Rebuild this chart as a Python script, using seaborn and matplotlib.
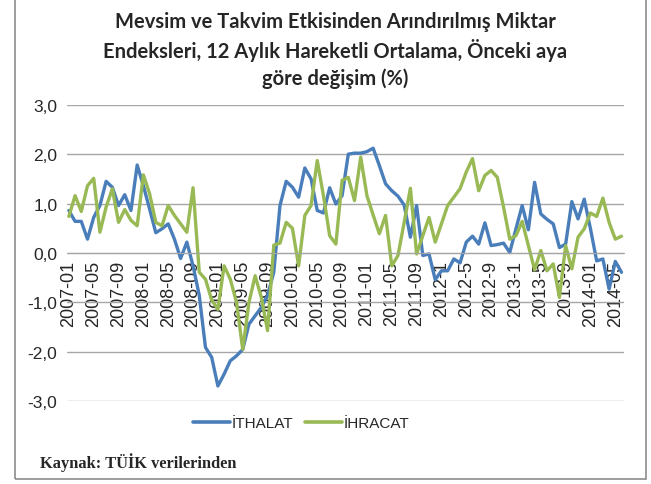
import matplotlib
matplotlib.use("Agg")
import matplotlib.pyplot as plt
import matplotlib.patches as mpatches
import pandas as pd
import seaborn as sns

# monthly values, 2007-01 .. 2014-06
ithalat = [0.86, 0.64, 0.64, 0.28, 0.72, 0.96, 1.45, 1.33, 0.96, 1.18, 0.86, 1.78,
           1.36, 0.89, 0.41, 0.49, 0.59, 0.28, -0.11, 0.22, -0.26, -0.86, -1.91, -2.11,
           -2.69, -2.45, -2.18, -2.08, -1.95, -1.44, -1.27, -1.10, -0.86, -0.39, 0.96, 1.45,
           1.33, 1.13, 1.72, 1.50, 0.86, 0.81, 1.32, 0.99, 1.16, 2.00, 2.02, 2.02,
           2.05, 2.12, 1.77, 1.40, 1.26, 1.15, 0.97, 0.32, 0.96, -0.05, -0.02, -0.54,
           -0.36, -0.36, -0.12, -0.20, 0.22, 0.34, 0.18, 0.61, 0.15, 0.17, 0.20, 0.01,
           0.49, 0.96, 0.47, 1.43, 0.79, 0.68, 0.59, 0.11, 0.18, 1.04, 0.69, 1.09,
           0.49, -0.16, -0.12, -0.73, -0.17, -0.39]
ihracat = [0.74, 1.16, 0.84, 1.36, 1.51, 0.42, 0.93, 1.30, 0.62, 0.88, 0.66, 0.55,
           1.58, 1.20, 0.62, 0.55, 0.96, 0.76, 0.59, 0.42, 1.32, -0.39, -0.53, -0.95,
           -1.14, -0.26, -0.53, -1.00, -1.95, -1.00, -0.46, -0.90, -1.57, 0.16, 0.20, 0.62,
           0.50, -0.26, 0.76, 0.96, 1.87, 1.16, 0.35, 0.18, 1.47, 1.53, 1.06, 1.94,
           1.16, 0.77, 0.39, 0.76, -0.26, -0.05, 0.62, 1.31, -0.02, 0.35, 0.72, 0.22,
           0.59, 0.96, 1.13, 1.30, 1.64, 1.91, 1.26, 1.57, 1.67, 1.53, 0.93, 0.28,
           0.35, 0.64, 0.15, -0.34, 0.05, -0.36, -0.22, -0.90, 0.15, -0.32, 0.32, 0.49,
           0.81, 0.74, 1.11, 0.62, 0.28, 0.34]
tick_labels = ['2007-01', '2007-05', '2007-09', '2008-01', '2008-05', '2008-09',
               '2009-01', '2009-05', '2009-09', '2010-01', '2010-05', '2010-09',
               '2011-01', '2011-05', '2011-09', '2012-1', '2012-5', '2012-9',
               '2013-1', '2013-5', '2013-9', '2014-01', '2014-05']
series_names = ['İTHALAT', 'İHRACAT']
colors = ['#4A7EBB', '#98B954']

months = list(range(len(ithalat)))
df = pd.concat([
    pd.DataFrame({'ay': months, 'deger': ithalat, 'seri': series_names[0]}),
    pd.DataFrame({'ay': months, 'deger': ihracat, 'seri': series_names[1]}),
])

sns.set_style('white')
plt.rcParams['font.family'] = ['Liberation Sans', 'DejaVu Sans']

fig = plt.figure(figsize=(6.51, 4.85), dpi=100)
ax = fig.add_axes([67 / 651, 1 - 402.3 / 485, (624 - 67) / 651, (402.3 - 105.7) / 485])

sns.lineplot(data=df, x='ay', y='deger', hue='seri', palette=colors,
             linewidth=2.4, ax=ax, legend=False)

# move the category axis to the zero line first (this resets the ticks)
for s in ['left', 'right', 'top']:
    ax.spines[s].set_visible(False)
ax.spines['bottom'].set_position(('data', 0))
ax.spines['bottom'].set_color('#A6A6A6')

ax.set_xlim(-0.3, 89.4)
ax.set_ylim(-3, 3)
ax.set_yticks([-3, -2, -1, 0, 1, 2, 3])
ax.set_yticklabels([f'{v:.1f}'.replace('.', ',') for v in [-3, -2, -1, 0, 1, 2, 3]],
                   fontsize=12.5)
ax.yaxis.grid(True, color='#A6A6A6', linewidth=1.0)
ax.set_axisbelow(True)
ax.set_xticks(range(0, 89, 4))
ax.set_xticklabels(tick_labels, fontsize=13)
ax.tick_params(axis='x', labelrotation=90, length=0, pad=5)
ax.tick_params(axis='y', length=0, pad=7)
ax.set_xlabel('')
ax.set_ylabel('')

fig.text(0.515, 1 - 12 / 485, 'Mevsim ve Takvim Etkisinden Arındırılmış Miktar\n'
         'Endeksleri, 12 Aylık Hareketli Ortalama, Önceki aya\ngöre değişim (%)',
         ha='center', va='top', fontsize=14.5, fontweight='bold', linespacing=1.38,
         family=['Lato', 'DejaVu Sans'])

handles = [plt.Line2D([], [], color=c, linewidth=2.6) for c in colors]
fig.legend(handles, series_names, loc='center', bbox_to_anchor=(301 / 651, 1 - 424 / 485),
           ncol=2, frameon=False, fontsize=11, handlelength=2.4, handletextpad=0.1,
           columnspacing=0.8)

fig.text(40 / 651, 1 - 463 / 485, 'Kaynak: TÜİK verilerinden', ha='left', va='center',
         fontsize=11.8, fontweight='bold', family=['Liberation Serif', 'DejaVu Serif'])

fig.patches.append(mpatches.Rectangle((15 / 651, 5 / 485), 631 / 651, 490 / 485,
                                      transform=fig.transFigure, fill=False,
                                      edgecolor='#8C8C8C', linewidth=1.2))

fig.savefig('out.png', dpi=100)
